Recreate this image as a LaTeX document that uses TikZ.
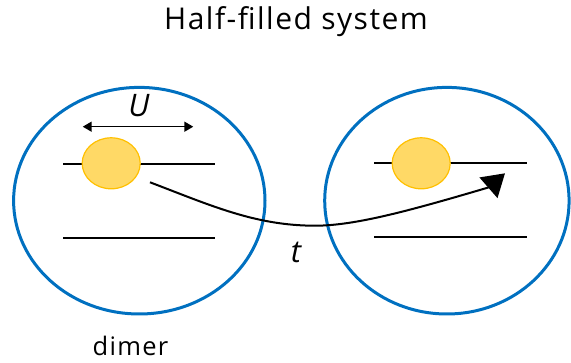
\documentclass[tikz,border=0pt]{standalone}
\usepackage{fontspec}
\setmainfont{Open Sans}
\newfontfamily\spacedfont[LetterSpace=5]{Open Sans}
\usetikzlibrary{arrows.meta}
\definecolor{pptblue}{HTML}{0070C0}
\definecolor{eyellow}{HTML}{FFD966}
\definecolor{eorange}{HTML}{FFC000}
\begin{document}
\begin{tikzpicture}[x=1pt,y=-1pt,
  site/.style={draw=pptblue, line width=3pt},
  level/.style={draw=black, line width=2pt},
  electron/.style={draw=eorange, fill=eyellow, line width=1.2pt},
  hop/.style={line width=2pt, -{Triangle[length=22pt,width=27pt]}},
  uarrow/.style={line width=1.5pt, {Triangle[length=9pt,width=10pt]}-{Triangle[length=9pt,width=10pt]}},
  lbl/.style={inner sep=0pt, anchor=base},
]
\useasboundingbox (0,0) rectangle (571,363);
% title
\node[lbl, font=\spacedfont\fontsize{30}{36}\selectfont] (title) at (296,30) {Half-filled system};
% dimer sites
\draw[site] (139.3,200.7) ellipse [x radius=125.7pt, y radius=113.3pt];
\draw[site] (446.9,200.7) ellipse [x radius=122.2pt, y radius=113.3pt];
% levels
\draw[level] (63.3,164.3) -- (215,164.3);
\draw[level] (63.3,238.3) -- (215,238.3);
\draw[level] (374,163.3) -- (526.7,163.3);
\draw[level] (374,236.7) -- (526.7,236.7);
% electrons
\draw[electron] (111.2,163.3) ellipse [x radius=29pt, y radius=25.5pt];
\draw[electron] (421.2,163.3) ellipse [x radius=29pt, y radius=25.5pt];
% U arrow
\coordinate (uL) at (82.7,126.7);
\coordinate (uR) at (193.3,126.7);
\draw[uarrow] (uL) -- (uR);
\node[lbl, font=\itshape\fontsize{31}{36}\selectfont] (ulabel) at (139,117) {U};
% hopping arrow
\coordinate (hs) at (150,182.3);
\coordinate (hm) at (315,225.7);
\coordinate (hb) at (489,187.3);
\coordinate (he) at (505,173.3);
\draw[hop] (hs) .. controls (210,205.1) and (255,225.7) .. (hm)
  .. controls (355,225.7) and (409.7,210.7) .. (hb) -- (he);
\node[lbl, font=\itshape\fontsize{31}{36}\selectfont] (tlabel) at (296,263) {t};
% label
\node[lbl, font=\spacedfont\fontsize{25.5}{30}\selectfont] (dimer) at (130.5,356) {dimer};
\end{tikzpicture}
\end{document}
